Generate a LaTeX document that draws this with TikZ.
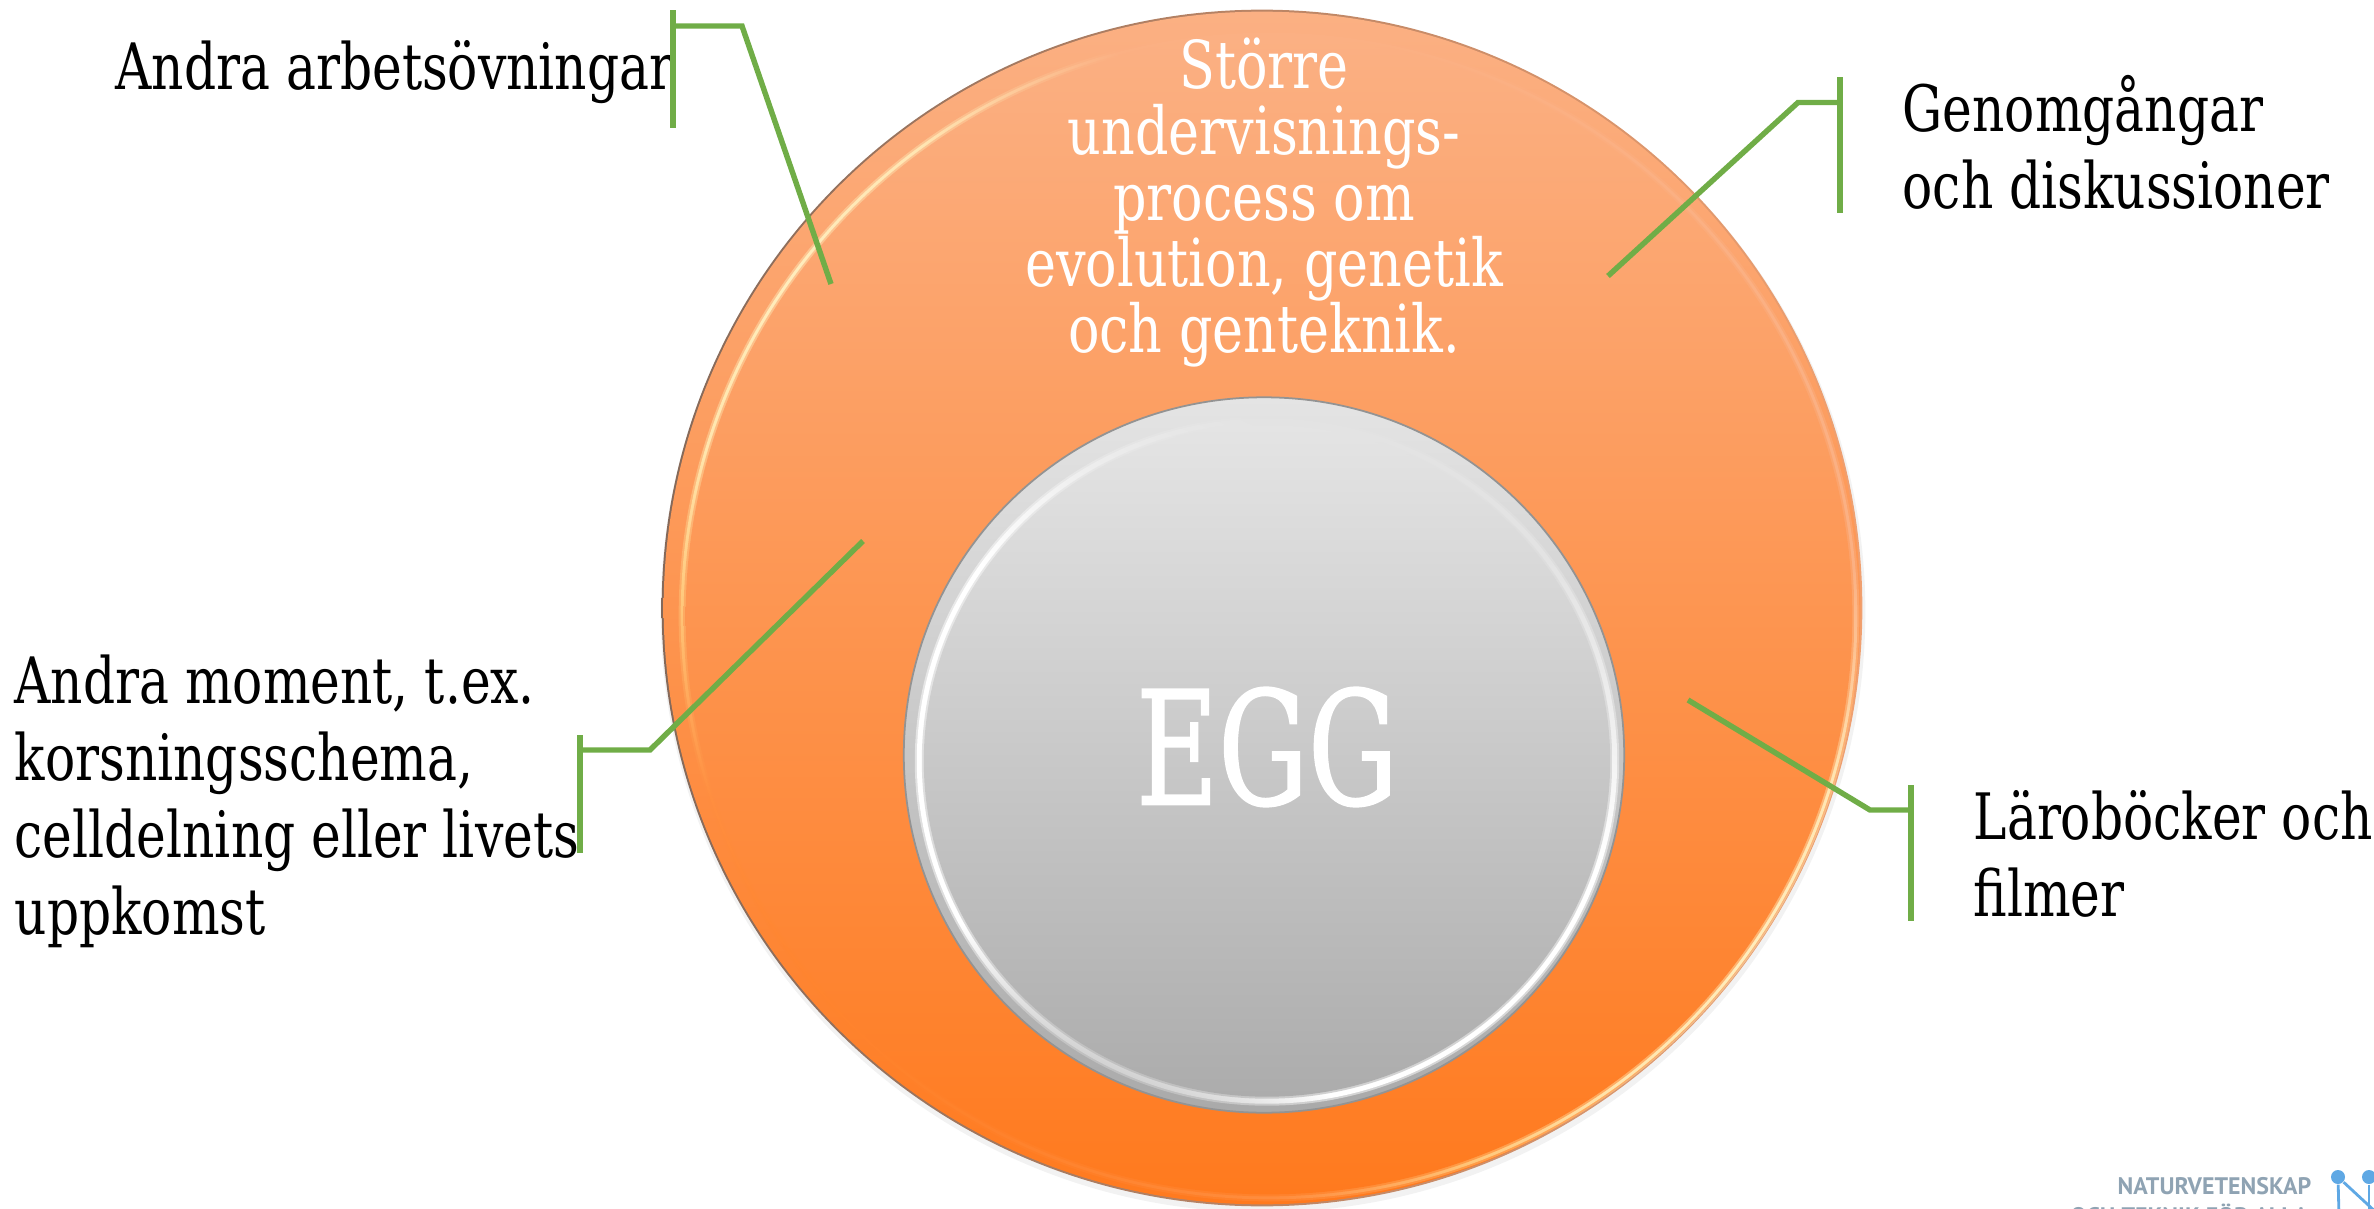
\documentclass[tikz,border=0pt]{standalone}
\usepackage{fontspec}
\setmainfont[FakeStretch=0.872]{DejaVu Serif Condensed}
\newfontfamily\centrefont[FakeStretch=0.88]{DejaVu Serif Condensed}
\newfontfamily\eggfont[FakeStretch=0.79,FakeBold=1]{DejaVu Serif Condensed}
\newfontfamily\logofont{PT Sans}
\usetikzlibrary{shapes.geometric}
\definecolor{callgreen}{HTML}{70AD47}
\definecolor{logoblue}{HTML}{5FA8E4}
\definecolor{logogray}{HTML}{8FA3B3}
\definecolor{orA}{HTML}{FBB083}
\definecolor{orB}{HTML}{FF7A1E}
\definecolor{orRim}{HTML}{84695A}
\definecolor{orRimR}{HTML}{F0A070}
\definecolor{grA}{HTML}{E4E4E4}
\definecolor{grB}{HTML}{ACACAC}
\pgfdeclareverticalshading{rimshade}{100bp}{
  color(0bp)=(orB); color(22bp)=(orB); color(30bp)=(orB!85!white);
  rgb(36bp)=(1,0.78,0.48); rgb(42bp)=(1,0.90,0.68); rgb(50bp)=(1,0.93,0.74); rgb(58bp)=(1,0.90,0.70);
  color(66bp)=(orA); color(100bp)=(orA)}
\pgfdeclareverticalshading{innerrim}{100bp}{
  rgb(0bp)=(0.82,0.82,0.82); rgb(25bp)=(0.82,0.82,0.82); rgb(30bp)=(1,1,1);
  rgb(54bp)=(1,1,1); rgb(64bp)=(0.93,0.93,0.93); rgb(72bp)=(0.89,0.89,0.89); rgb(100bp)=(0.89,0.89,0.89)}
\tikzset{
  disc/.style={ellipse,inner sep=0pt,outer sep=0pt},
  callout/.style={draw=callgreen,line width=1.55pt,miter limit=10},
  mainlabel/.style={anchor=north west,inner sep=0pt,align=left,text=black,font=\fontsize{18.2}{21.9}\selectfont},
  logotext/.style={anchor=base east,inner sep=0pt,text=logogray,font=\logofont\bfseries\fontsize{6.8}{8}\selectfont},
}
\begin{document}
\begin{tikzpicture}[x=0.01cm,y=-0.01cm]
\useasboundingbox (0,0) rectangle (2374,1209);
\clip (0,0) rectangle (2374,1209);
% outer disc: shadow, edge, base, highlight rim, main face
\node[disc,minimum width=12.04cm,minimum height=12.00cm,fill=black,opacity=0.05] (outershadow) at (1263,612) {};
\node[disc,minimum width=12cm,minimum height=11.96cm,left color=orRim,right color=orRimR] (outeredge) at (1262,608) {};
\node[disc,minimum width=11.96cm,minimum height=11.92cm,top color=orA,bottom color=orB] (outerbase) at (1262,608) {};
\node[disc,minimum width=11.80cm,minimum height=11.70cm,shading=rimshade,shading angle=-35,opacity=0.45] (outerhlb) at (1269,616) {};
\node[disc,minimum width=11.76cm,minimum height=11.66cm,shading=rimshade,shading angle=-35] (outerhl) at (1269,616) {};
\node[disc,minimum width=11.70cm,minimum height=11.60cm,top color=orA,bottom color=orB,opacity=0.55] (outerfaceb) at (1269,616) {};
\node[disc,minimum width=11.66cm,minimum height=11.56cm,top color=orA,bottom color=orB] (outerface) at (1269,616) {};
% inner disc
\node[disc,minimum width=7.2cm,minimum height=7.15cm,top color=grA,bottom color=grB!95!gray,draw=gray!85,line width=0.5pt] (innerbase) at (1264,755) {};
\node[disc,minimum width=7.04cm,minimum height=6.89cm,shading=innerrim,shading angle=-25,opacity=0.5] (innerhlb) at (1267,761) {};
\node[disc,minimum width=7.0cm,minimum height=6.85cm,shading=innerrim,shading angle=-25] (innerhl) at (1267,761) {};
\node[disc,minimum width=6.90cm,minimum height=6.75cm,top color=grA,bottom color=grB,opacity=0.55] (innerfaceb) at (1267,761) {};
\node[disc,minimum width=6.86cm,minimum height=6.71cm,top color=grA,bottom color=grB] (innerface) at (1267,761) {};
% texts
\node[inner sep=0pt,text=white,font=\eggfont\fontsize{45}{54}\selectfont] (egg) at (1267,747) {EGG};
\node[inner sep=0pt,anchor=north,align=center,text=white,font=\centrefont\fontsize{18.8}{18.8}\selectfont] (centre) at (1264,37) {Större\\undervisnings-\\process om\\evolution, genetik\\och genteknik.};
\node[mainlabel] (lblother) at (115,40) {Andra arbetsövningar};
\node[mainlabel] (lblreview) at (1902,75) {Genomgångar\\och diskussioner};
\node[mainlabel] (lblbooks) at (1973,790) {Läroböcker och\\filmer};
\node[mainlabel] (lblmoments) at (14,654) {Andra moment, t.ex.\\korsningsschema,\\celldelning eller livets\\uppkomst};
% callouts
\coordinate (a1) at (673,10); \coordinate (a2) at (673,128); \coordinate (a3) at (673,26); \coordinate (a4) at (742,26); \coordinate (a5) at (831,284);
\draw[callout] (a1) -- (a2);
\draw[callout] (a3) -- (a4) -- (a5);
\coordinate (b1) at (1840,77); \coordinate (b2) at (1840,213); \coordinate (b3) at (1840,102.5); \coordinate (b4) at (1798,102.5); \coordinate (b5) at (1608,276);
\draw[callout] (b1) -- (b2);
\draw[callout] (b3) -- (b4) -- (b5);
\coordinate (c1) at (580,735); \coordinate (c2) at (580,853); \coordinate (c3) at (580,750); \coordinate (c4) at (650,750); \coordinate (c5) at (863,541);
\draw[callout] (c1) -- (c2);
\draw[callout] (c3) -- (c4) -- (c5);
\coordinate (d1) at (1911,785); \coordinate (d2) at (1911,920.5); \coordinate (d3) at (1911,810); \coordinate (d4) at (1870,810); \coordinate (d5) at (1688,700);
\draw[callout] (d1) -- (d2);
\draw[callout] (d3) -- (d4) -- (d5);
% logo
\node[logotext] (logoa) at (2312,1194) {NATURVETENSKAP};
\node[logotext] (logob) at (2309,1224) {OCH TEKNIK FÖR ALLA};
\node[circle,fill=logoblue,minimum size=0.14cm,inner sep=0pt] (dota) at (2338,1177) {};
\node[circle,fill=logoblue,minimum size=0.14cm,inner sep=0pt] (dotb) at (2369,1177) {};
\coordinate (ne) at (2339,1215); \coordinate (nf) at (2369,1215); \coordinate (ng) at (2379,1215);
\draw[logoblue,line width=0.8pt] (dota) -- (ne);
\draw[logoblue,line width=0.8pt] (dota) -- (ng);
\draw[logoblue,line width=0.8pt] (dotb) -- (nf);
\end{tikzpicture}
\end{document}
